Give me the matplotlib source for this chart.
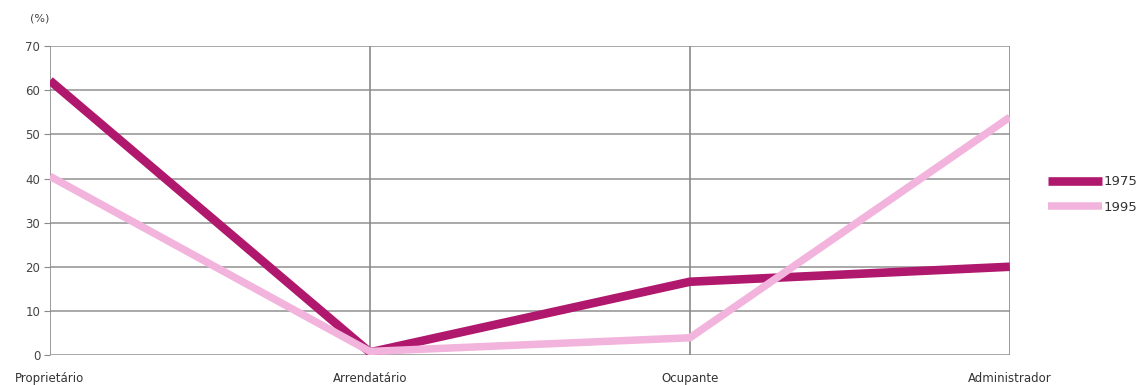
import numpy as np
import matplotlib.pyplot as plt

categorias = ['Proprietário', 'Arrendatário', 'Ocupante', 'Administrador']
v1975 = [62.2, 0.6, 16.6, 20.0]
v1995 = [40.5, 0.8, 3.9, 53.9]
yticks = [0, 10, 20, 30, 40, 50, 60, 70]

fig = plt.figure(figsize=(11.41, 3.85), dpi=100)
ax = fig.add_axes([0.0438, 0.078, 0.8412, 0.802])

x = np.arange(len(categorias))
for yy in yticks:
    ax.axhline(yy, color='#9a9a9a', lw=1.2, zorder=1)
for xx in x:
    ax.axvline(xx, color='#8a8a8a', lw=1.2, zorder=1)

ax.plot(x, v1975, color='#B0186E', lw=6.2, label='1975', zorder=3, solid_capstyle='butt')
ax.plot(x, v1995, color='#F2B3DC', lw=5.4, label='1995', zorder=4, solid_capstyle='butt')

ax.set_xlim(0, 3)
ax.set_ylim(0, 70)
ax.set_yticks(yticks)
ax.set_xticks(x)
ax.set_xticklabels(categorias)
for s in ax.spines.values():
    s.set_visible(False)
ax.tick_params(axis='y', length=4, color='#8a8a8a', labelsize=8.5, labelcolor='#444444', pad=3)
ax.tick_params(axis='x', length=0, labelsize=8.5, labelcolor='#333333', pad=12)

fig.text(0.035, 0.952, '(%)', fontsize=8, color='#444444', ha='center', va='center')

ax.legend(loc='center left', bbox_to_anchor=(1.027, 0.52), frameon=False,
          fontsize=9.5, handlelength=4.1, handletextpad=0.12, labelspacing=0.95,
          labelcolor='#333333')

fig.savefig('out.png', dpi=100)
